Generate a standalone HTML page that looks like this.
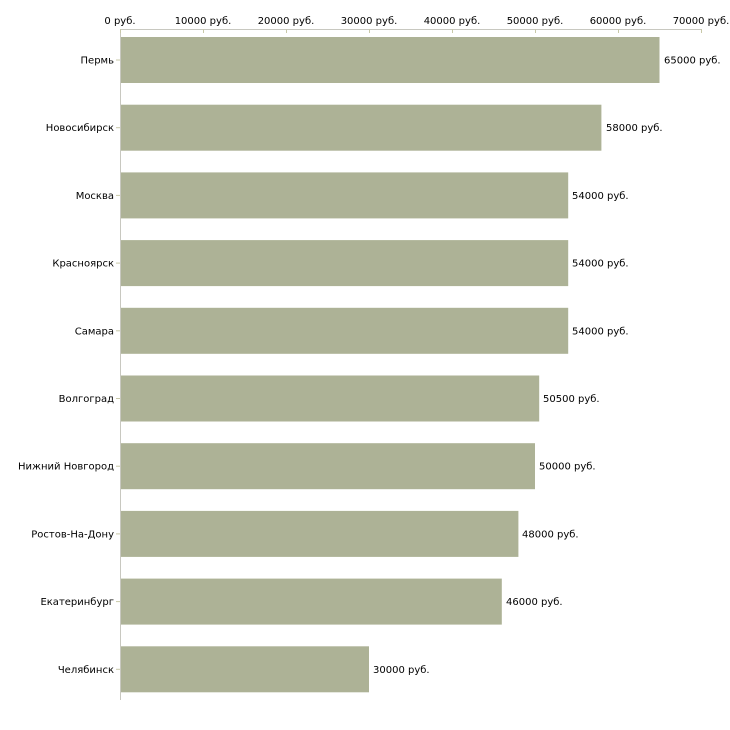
<!DOCTYPE html>
<html><head><meta charset="utf-8"><style>body{margin:0;background:#fff}svg{display:block}text{font-family:"DejaVu Sans","Liberation Sans",sans-serif;font-size:10px;fill:#000}</style></head><body>
<svg width="730" height="730" xmlns="http://www.w3.org/2000/svg">
<line x1="120" y1="29.5" x2="702" y2="29.5" stroke="#c8c8c0"/>
<line x1="120.5" y1="29" x2="120.5" y2="700" stroke="#c8c8c0"/>
<g stroke="#c8c8a8">
<line x1="120.5" y1="29" x2="120.5" y2="33"/><line x1="203.5" y1="29" x2="203.5" y2="33"/><line x1="286.5" y1="29" x2="286.5" y2="33"/><line x1="369.5" y1="29" x2="369.5" y2="33"/><line x1="452.5" y1="29" x2="452.5" y2="33"/><line x1="535.5" y1="29" x2="535.5" y2="33"/><line x1="618.5" y1="29" x2="618.5" y2="33"/><line x1="701.5" y1="29" x2="701.5" y2="33"/>
</g>
<g text-anchor="middle">
<text x="120" y="24">0 руб.</text><text x="203" y="24">10000 руб.</text><text x="286" y="24">20000 руб.</text><text x="369" y="24">30000 руб.</text><text x="452" y="24">40000 руб.</text><text x="535" y="24">50000 руб.</text><text x="618" y="24">60000 руб.</text><text x="701" y="24">70000 руб.</text>
</g>
<g fill="#adb296">
<rect x="121" y="37" width="538.5" height="46"/>
<rect x="121" y="104.7" width="480.4" height="46"/>
<rect x="121" y="172.4" width="447.2" height="46"/>
<rect x="121" y="240.1" width="447.2" height="46"/>
<rect x="121" y="307.8" width="447.2" height="46"/>
<rect x="121" y="375.5" width="418.2" height="46"/>
<rect x="121" y="443.2" width="414" height="46"/>
<rect x="121" y="510.9" width="397.4" height="46"/>
<rect x="121" y="578.6" width="380.8" height="46"/>
<rect x="121" y="646.3" width="248" height="46"/>
</g>
<g stroke="#c8c8a8">
<line x1="116" y1="60" x2="120" y2="60"/><line x1="116" y1="127.7" x2="120" y2="127.7"/><line x1="116" y1="195.4" x2="120" y2="195.4"/><line x1="116" y1="263.1" x2="120" y2="263.1"/><line x1="116" y1="330.8" x2="120" y2="330.8"/><line x1="116" y1="398.5" x2="120" y2="398.5"/><line x1="116" y1="466.2" x2="120" y2="466.2"/><line x1="116" y1="533.9" x2="120" y2="533.9"/><line x1="116" y1="601.6" x2="120" y2="601.6"/><line x1="116" y1="669.3" x2="120" y2="669.3"/>
</g>
<g text-anchor="end">
<text x="114" y="63.5">Пермь</text><text x="114" y="131.2">Новосибирск</text><text x="114" y="198.9">Москва</text><text x="114" y="266.6">Красноярск</text><text x="114" y="334.3">Самара</text><text x="114" y="402">Волгоград</text><text x="114" y="469.7">Нижний Новгород</text><text x="114" y="537.4">Ростов-На-Дону</text><text x="114" y="605.1">Екатеринбург</text><text x="114" y="672.8">Челябинск</text>
</g>
<g>
<text x="664" y="63.5">65000 руб.</text><text x="606" y="131.2">58000 руб.</text><text x="572" y="198.9">54000 руб.</text><text x="572" y="266.6">54000 руб.</text><text x="572" y="334.3">54000 руб.</text><text x="543" y="402">50500 руб.</text><text x="539" y="469.7">50000 руб.</text><text x="522" y="537.4">48000 руб.</text><text x="506" y="605.1">46000 руб.</text><text x="373" y="672.8">30000 руб.</text>
</g>
</svg>
</body></html>
